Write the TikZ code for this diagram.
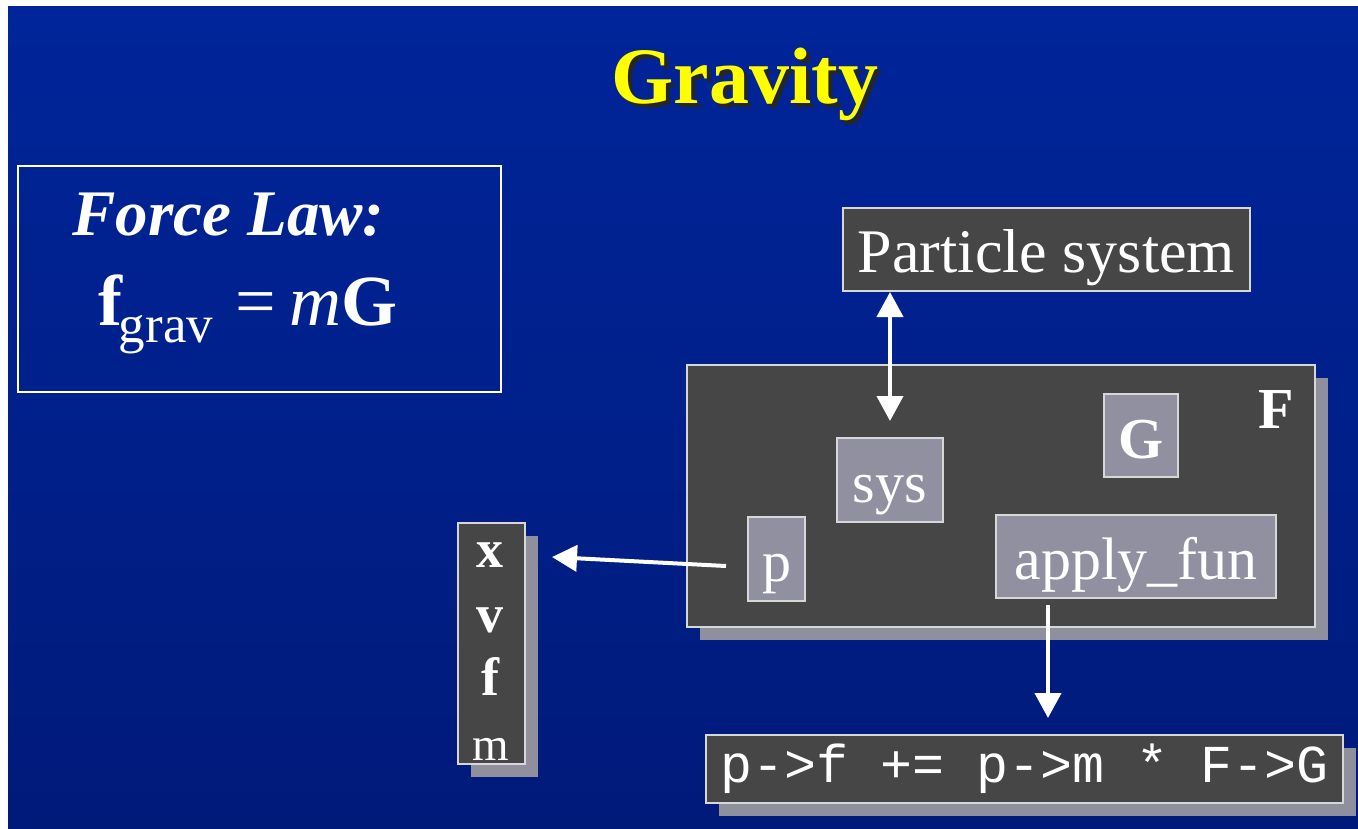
\documentclass[tikz,border=0pt]{standalone}
\usepackage{fontspec}
\setmainfont{Liberation Serif}
\setmonofont{Liberation Mono}
\usetikzlibrary{arrows.meta,shadows}
\definecolor{bgtop}{RGB}{0,37,154}
\definecolor{bgbot}{RGB}{0,26,122}
\definecolor{boxdark}{RGB}{70,70,70}
\definecolor{boxmid}{RGB}{144,144,160}
\definecolor{shgray}{RGB}{143,143,158}
\definecolor{edgegray}{RGB}{215,215,215}
\definecolor{titleyellow}{RGB}{255,255,0}
\newcommand\myfs[1]{\fontsize{#1}{#1}\selectfont}
\begin{document}
\begin{tikzpicture}[x=1pt,y=-1pt,
  darkbox/.style={draw=edgegray, line width=2pt, fill=boxdark, inner sep=0pt, text=white},
  midbox/.style={draw=edgegray, line width=2pt, fill=boxmid, inner sep=0pt, text=white, text height=45pt, text depth=0pt},
  shad/.style={drop shadow={shadow xshift=13pt, shadow yshift=-13pt, fill=shgray, opacity=1}},
  arr/.style={draw=white, line width=4pt, -{Triangle[length=25pt,width=26pt]}},
  dblarr/.style={draw=white, line width=4pt, {Triangle[length=25pt,width=26pt]}-{Triangle[length=25pt,width=26pt]}},
  wtext/.style={text=white, inner sep=0pt}
]
\useasboundingbox (0,0) rectangle (1358,828);
\fill[white] (0,0) rectangle (1358,828);
\fill[top color=bgtop, bottom color=bgbot] (8,6) rectangle (1358,828);

% title
\node[anchor=base, text=black!85, font=\myfs{80}\bfseries, inner sep=0pt] (titleshadow) at (749,107) {Gravity};
\node[anchor=base, text=titleyellow, font=\myfs{80}\bfseries, inner sep=0pt] (title) at (745,103) {Gravity};

% force law box
\node[draw=white, line width=1.5pt, minimum width=483pt, minimum height=226pt, inner sep=0pt] (lawbox) at (259.5,279) {};
\node[wtext, anchor=base west, font=\myfs{65}\bfseries\itshape] (lawtitle) at (72,235) {Force Law:};
\node[wtext, anchor=base west, font=\myfs{72}] (law) at (98,325)
  {\textbf{f}\kern-4pt\raisebox{-17pt}{\myfs{53}grav}\hspace{22pt}=\hspace{14pt}\textit{m}\textbf{G}};

% particle system
\node[darkbox, minimum width=407pt, minimum height=83pt, font=\myfs{62}, text height=45pt, text depth=0pt] (ps) at (1046.5,249.5) {Particle system};

% F box
\node[darkbox, shad, minimum width=628pt, minimum height=262pt] (F) at (1001,496) {};
\node[wtext, anchor=base, font=\myfs{58}\bfseries] (Flabel) at (1276,428) {F};
\node[midbox, minimum width=74pt, minimum height=83pt, font=\myfs{58}\bfseries] (G) at (1141,435.5) {G};
\node[midbox, minimum width=106pt, minimum height=84pt, font=\myfs{58}] (sys) at (890,480) {sys};
\node[midbox, minimum width=57pt, minimum height=84pt, font=\myfs{58}] (p) at (776.5,559) {p};
\node[midbox, minimum width=280pt, minimum height=83pt, font=\myfs{60}] (apply) at (1136,556.5) {apply\_fun};

% particle vector
\node[darkbox, shad, minimum width=67pt, minimum height=241pt] (pvec) at (491.5,643.5) {};
\node[wtext, anchor=base, font=\myfs{54}\bfseries] (vx) at (490,567) {x};
\node[wtext, anchor=base, font=\myfs{54}\bfseries] (vv) at (490,632) {v};
\node[wtext, anchor=base, font=\myfs{54}\bfseries] (vf) at (490,695) {f};
\node[wtext, anchor=base, font=\myfs{47}] (vm) at (491,760) {m};

% code box
\node[darkbox, shad, minimum width=637pt, minimum height=68pt, font=\ttfamily\myfs{53.3}] (code) at (1024.5,769) {p->f += p->m * F->G};

% connectors
\coordinate (sysin) at (890,421);
\coordinate (pvin) at (552,557);
\coordinate (codein) at (1048,718);
\draw[dblarr] (ps.south -| sysin) -- (sysin);
\draw[arr] ([xshift=-21pt,yshift=-7pt]p.west) -- (pvin);
\draw[arr, shorten <=6pt] (apply.south -| codein) -- (codein);
\end{tikzpicture}
\end{document}
